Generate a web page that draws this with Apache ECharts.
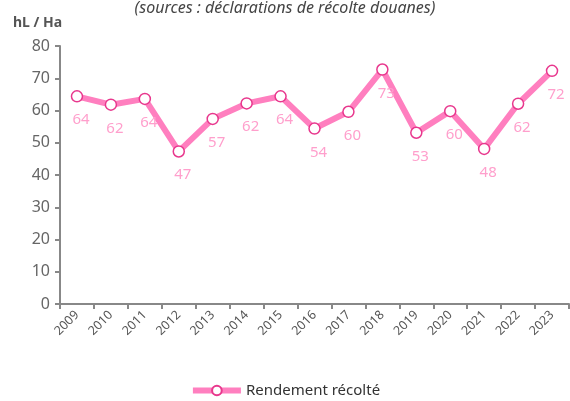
<!DOCTYPE html>
<html>
<head>
<meta charset="utf-8">
<script src="https://cdn.jsdelivr.net/npm/echarts@6/dist/echarts.min.js"></script>
<style>
  html, body { margin: 0; padding: 0; background: #fff; }
  #main { width: 570px; height: 401px; }
</style>
</head>
<body>
<div id="main"></div>
<script>
// données
var years = ['2009', '2010', '2011', '2012', '2013', '2014', '2015', '2016',
  '2017', '2018', '2019', '2020', '2021', '2022', '2023'];
var rendement = [64.4, 61.8, 63.6, 47.3, 57.4, 62.2, 64.4, 54.4, 59.6, 72.7, 53.1, 59.8, 48.1, 62.1, 72.3];
var yTicks = [0, 10, 20, 30, 40, 50, 60, 70, 80];

var font = '"Noto Sans", sans-serif';
var chart = echarts.init(document.getElementById('main'));
var option = {
  animation: false,
  textStyle: { fontFamily: font },
  title: [
    {
      text: '(sources : déclarations de récolte douanes)',
      left: 'center',
      top: -5,
      textStyle: { fontSize: 16, fontStyle: 'italic', fontWeight: 'normal', color: '#444', fontFamily: font }
    },
    {
      text: 'hL / Ha',
      left: 8,
      top: 11,
      textStyle: { fontSize: 14, fontWeight: 'bold', color: '#555', fontFamily: font }
    }
  ],
  legend: {
    bottom: -2,
    left: 'center',
    itemWidth: 48,
    itemHeight: 12,
    itemGap: 4,
    lineStyle: { width: 6 },
    textStyle: { fontSize: 15, color: '#333', fontFamily: font },
    data: ['Rendement récolté']
  },
  grid: { left: 60, right: 1, top: 46, bottom: 97 },
  xAxis: {
    type: 'category',
    data: years,
    boundaryGap: true,
    axisLine: { lineStyle: { color: '#888', width: 2 } },
    axisTick: { show: true, length: 5, lineStyle: { color: '#888', width: 2 } },
    axisLabel: { rotate: 45, fontSize: 12.5, color: '#555', margin: 9, fontFamily: font }
  },
  yAxis: {
    type: 'value',
    min: yTicks[0],
    max: yTicks[yTicks.length - 1],
    interval: 10,
    splitLine: { show: false },
    axisLine: { show: true, lineStyle: { color: '#888', width: 2 } },
    axisTick: { show: true, length: 5, lineStyle: { color: '#888', width: 2 } },
    axisLabel: { fontSize: 16, color: '#666', margin: 10, fontFamily: font }
  },
  series: [
    {
      name: 'Rendement récolté',
      type: 'line',
      data: rendement,
      symbol: 'circle',
      symbolSize: 11,
      lineStyle: { color: '#ff7fbf', width: 6 },
      itemStyle: { color: '#fff', borderColor: '#e8378d', borderWidth: 1.5 },
      label: {
        show: true,
        position: 'bottom',
        distance: 10,
        offset: [4, 0],
        fontSize: 15,
        color: '#ff9fcc',
        fontFamily: font,
        formatter: function (p) { return Math.round(p.value); }
      }
    }
  ]
};
chart.setOption(option);
</script>
</body>
</html>
